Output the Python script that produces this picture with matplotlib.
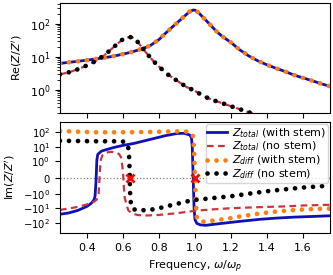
import matplotlib
matplotlib.use("Agg")
import matplotlib.pyplot as plt
from matplotlib.ticker import NullLocator

# ---------------- data ----------------
# Re part, with stem (Z_total and Z_diff nearly identical)
re_stem_f = [0.25, 0.30, 0.35, 0.40, 0.45, 0.50, 0.55, 0.60, 0.65, 0.70, 0.75, 0.80,
             0.825, 0.85, 0.875, 0.90, 0.925, 0.95, 0.97, 0.99, 1.00, 1.02, 1.04,
             1.06, 1.09, 1.12, 1.15, 1.20, 1.25, 1.30, 1.35, 1.40, 1.45, 1.50,
             1.55, 1.60, 1.65, 1.70, 1.75]
re_total_stem = [6.3, 6.8, 7.3, 7.9, 8.6, 9.4, 10.5, 12.0, 14.0, 17.0, 21.5, 33.0,
                 45.0, 60.0, 80.0, 105.0, 140.0, 185.0, 230.0, 258.0, 255.0, 215.0, 165.0,
                 128.0, 86.0, 58.0, 42.0, 27.0, 16.0, 10.5, 7.5, 5.7, 4.5, 3.6,
                 2.8, 2.3, 1.9, 1.54, 1.28]
re_diff_stem = [6.3, 6.8, 7.3, 7.9, 8.6, 9.4, 10.5, 12.0, 14.0, 17.0, 21.5, 33.0,
                45.0, 60.0, 80.0, 105.0, 140.0, 185.0, 230.0, 258.0, 255.0, 215.0, 165.0,
                128.0, 86.0, 58.0, 42.0, 27.0, 16.0, 10.5, 7.5, 5.7, 4.5, 3.6,
                2.8, 2.3, 1.9, 1.54, 1.28]

# Re part, no stem
re_nostem_f = [0.25, 0.30, 0.35, 0.40, 0.45, 0.50, 0.55, 0.60, 0.63, 0.65, 0.67, 0.70,
               0.73, 0.77, 0.81, 0.85, 0.90, 0.95, 1.00, 1.05, 1.10, 1.15, 1.20,
               1.25, 1.30, 1.35, 1.40, 1.50, 1.60, 1.75]
re_total_nostem = [2.95, 3.4, 4.2, 5.5, 7.5, 11.5, 20.0, 34.0, 39.0, 39.0, 34.0, 21.0,
                   13.0, 7.3, 4.5, 2.9, 1.9, 1.25, 0.93, 0.64, 0.49, 0.40, 0.32,
                   0.26, 0.21, 0.17, 0.14, 0.10, 0.075, 0.055]
re_diff_nostem = re_total_nostem

# Im part, Z_total with stem
im_total_stem_f = [0.25, 0.30, 0.35, 0.40, 0.42, 0.43, 0.44, 0.445, 0.45, 0.455, 0.46,
                   0.48, 0.50, 0.55, 0.60, 0.66, 0.75, 0.84, 0.90, 0.94, 0.97, 0.98,
                   0.985, 0.99, 0.995, 1.00, 1.01, 1.03, 1.06, 1.10, 1.18, 1.25,
                   1.36, 1.45, 1.55, 1.65, 1.75]
im_total_stem = [-26.0, -21.0, -14.0, -7.5, -5.0, -3.8, -2.5, -1.5, -0.3, 1.2, 3.0,
                 5.0, 6.0, 9.0, 12.5, 17.0, 32.0, 60.0, 82.0, 85.0, 65.0, 45.0,
                 10.0, 0.0, -10.0, -60.0, -110.0, -140.0, -150.0, -130.0, -100.0, -80.0,
                 -58.0, -48.0, -41.0, -37.0, -33.0]

# Im part, Z_total no stem
im_total_nostem_f = [0.25, 0.30, 0.35, 0.40, 0.44, 0.455, 0.465, 0.47, 0.475, 0.485,
                     0.50, 0.53, 0.56, 0.58, 0.59, 0.60, 0.605, 0.61, 0.62, 0.63,
                     0.65, 0.68, 0.72, 0.80, 0.90, 1.00, 1.10, 1.20, 1.35, 1.50,
                     1.60, 1.75]
im_total_nostem = [-13.0, -10.5, -8.0, -5.5, -3.5, -2.5, -1.0, 0.0, 1.0, 2.5,
                   3.8, 4.5, 4.3, 3.0, 1.8, 0.4, -0.6, -2.0, -6.0, -14.0,
                   -23.0, -29.0, -32.0, -29.0, -22.0, -15.0, -12.0, -10.0, -8.5, -7.5,
                   -6.5, -5.8]

# Im part, Z_diff with stem
im_diff_stem_f = [0.25, 0.35, 0.45, 0.55, 0.65, 0.75, 0.85, 0.92, 0.96, 0.98, 0.99,
                  0.995, 1.00, 1.005, 1.01, 1.02, 1.04, 1.07, 1.12, 1.19, 1.25,
                  1.36, 1.45, 1.56, 1.65, 1.75]
im_diff_stem = [120.0, 110.0, 100.0, 100.0, 102.0, 105.0, 112.0, 115.0, 110.0, 95.0, 50.0,
                5.0, 0.0, -5.0, -40.0, -70.0, -85.0, -82.0, -65.0, -50.0, -37.0,
                -23.0, -17.0, -13.0, -11.5, -10.5]

# Im part, Z_diff no stem
im_diff_nostem_f = [0.25, 0.35, 0.45, 0.55, 0.60, 0.62, 0.63, 0.635, 0.638, 0.64,
                    0.645, 0.655, 0.67, 0.70, 0.75, 0.80, 0.85, 0.90, 0.95, 1.00,
                    1.10, 1.20, 1.30, 1.40, 1.50, 1.60, 1.75]
im_diff_nostem = [26.0, 25.0, 24.0, 24.0, 23.0, 18.0, 8.0, 1.5, 0.0, -1.5,
                  -6.0, -11.0, -13.0, -14.0, -13.0, -10.0, -7.0, -5.0, -3.5, -2.7,
                  -2.0, -1.5, -1.0, -0.85, -0.73, -0.62, -0.5]

# zero crossings of Z_diff (resonances)
res_freqs = [0.638, 1.0]
res_vals = [0.0, 0.0]

labels = [r"$Z_{total}$ (with stem)", r"$Z_{total}$ (no stem)",
          r"$Z_{diff}$ (with stem)", r"$Z_{diff}$ (no stem)"]

# ---------------- styling ----------------
plt.rcParams['font.family'] = ['DejaVu Sans']
plt.rcParams['font.size'] = 8
plt.rcParams['mathtext.fontset'] = 'dejavusans'

c_blue = '#1010b8'
c_red = '#cc3340'
c_orange = '#ff7f0e'
c_black = 'black'

dot_kw = dict(linestyle=(0, (0.01, 1.9)), dash_capstyle='round', linewidth=3.4)

fig = plt.figure(figsize=(3.33, 2.75), dpi=100)
ax1 = fig.add_axes([0.18, 0.589, 0.811, 0.40])
ax2 = fig.add_axes([0.18, 0.153, 0.811, 0.403])

# top panel
ax1.plot(re_stem_f, re_total_stem, color=c_blue, lw=2.0)
ax1.plot(re_nostem_f, re_total_nostem, color=c_red, lw=1.6, linestyle=(0, (3, 2)))
ax1.plot(re_stem_f, re_diff_stem, color=c_orange, **dot_kw)
ax1.plot(re_nostem_f, re_diff_nostem, color=c_black, **dot_kw)
ax1.set_yscale('log')
ax1.set_ylim(0.2, 420)
ax1.set_xlim(0.25, 1.75)
ax1.set_xticks([0.4, 0.6, 0.8, 1.0, 1.2, 1.4, 1.6])
ax1.tick_params(labelbottom=False)
ax1.set_ylabel(r"Re($Z/Z'$)")

# bottom panel
ax2.axhline(0, color='gray', lw=0.9, linestyle=':')
ax2.plot(im_total_stem_f, im_total_stem, color=c_blue, lw=2.0, label=labels[0])
ax2.plot(im_total_nostem_f, im_total_nostem, color=c_red, lw=1.6,
         linestyle=(0, (3, 2)), label=labels[1])
ax2.plot(im_diff_stem_f, im_diff_stem, color=c_orange, label=labels[2], **dot_kw)
ax2.plot(im_diff_nostem_f, im_diff_nostem, color=c_black, label=labels[3], **dot_kw)
ax2.plot(res_freqs, res_vals, linestyle='none', marker='x', color='red',
         markersize=6, markeredgewidth=2, zorder=5)
ax2.set_yscale('symlog', linthresh=1)
ax2.set_ylim(-500, 500)
ax2.yaxis.set_minor_locator(NullLocator())
ax2.tick_params(axis='y', labelsize=7.2)
ax2.set_xlim(0.25, 1.75)
ax2.set_xticks([0.4, 0.6, 0.8, 1.0, 1.2, 1.4, 1.6])
ax2.set_ylabel(r"Im($Z/Z'$)")
ax2.set_xlabel(r"Frequency, $\omega/\omega_p$")
ax2.legend(loc='upper right', fontsize=8, handlelength=1.8, labelspacing=0.02,
           borderpad=0.15, handletextpad=0.4, borderaxespad=0.2)

fig.savefig('out.png', dpi=100)
